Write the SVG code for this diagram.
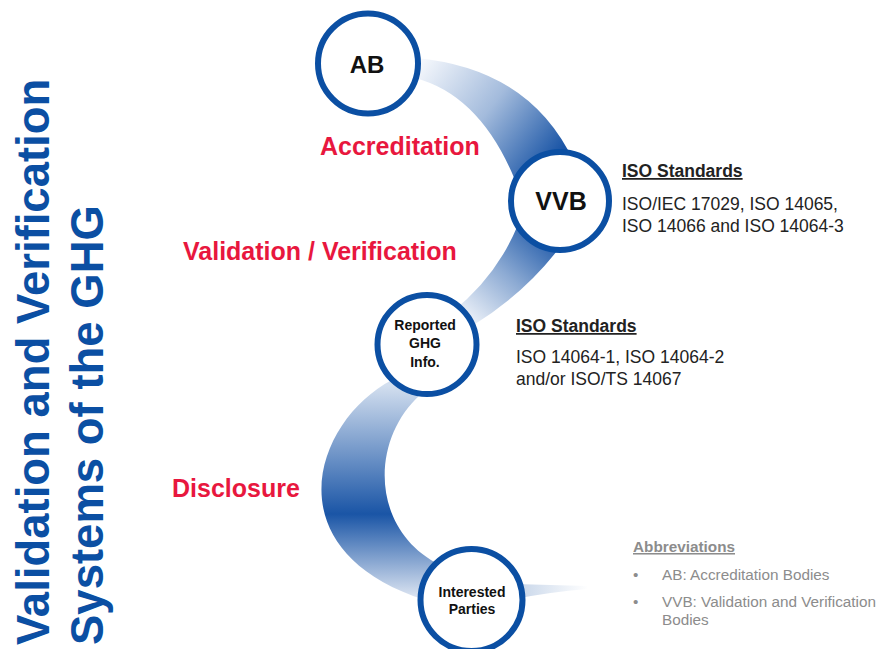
<svg xmlns="http://www.w3.org/2000/svg" width="880" height="649" viewBox="0 0 880 649">
<defs>
<style>
.title{font-family:"Liberation Sans",Arial,sans-serif;font-weight:bold;font-size:45.5px;fill:#0B4FA3}
.node circle{fill:#fff;stroke:#0B4FA3;stroke-width:6}
.nt{font-family:"Liberation Sans",Arial,sans-serif;font-weight:bold;fill:#111;text-anchor:middle}
.red{font-family:"Liberation Sans",Arial,sans-serif;font-weight:bold;font-size:25px;fill:#E8173E}
.hd{font-family:"Liberation Sans",Arial,sans-serif;font-weight:bold;font-size:17.5px;fill:#222;text-decoration:underline}
.bd{font-family:"Liberation Sans",Arial,sans-serif;font-size:17.5px;fill:#222}
.ab{font-family:"Liberation Sans",Arial,sans-serif;font-size:15.3px;fill:#8C8C8C}
</style>
<linearGradient id="g1" gradientUnits="userSpaceOnUse" x1="420" y1="65" x2="550" y2="165">
<stop offset="0" stop-color="#F4F7FC"/>
<stop offset="0.5" stop-color="#A3BBDC"/>
<stop offset="1" stop-color="#1A55A6"/>
</linearGradient>
<linearGradient id="g2" gradientUnits="userSpaceOnUse" x1="545" y1="225" x2="462" y2="318">
<stop offset="0" stop-color="#1A55A6"/>
<stop offset="0.5" stop-color="#8CAAD3"/>
<stop offset="1" stop-color="#F0F4FA"/>
</linearGradient>
<linearGradient id="g3" gradientUnits="userSpaceOnUse" x1="0" y1="385" x2="0" y2="600">
<stop offset="0" stop-color="#D3DFEF"/>
<stop offset="0.6" stop-color="#1A55A6"/>
<stop offset="1" stop-color="#E2E9F4"/>
</linearGradient>
<linearGradient id="g4" gradientUnits="userSpaceOnUse" x1="520" y1="0" x2="588" y2="0">
<stop offset="0" stop-color="#C9D7EA"/>
<stop offset="1" stop-color="#FFFFFF"/>
</linearGradient>
</defs>
<rect width="880" height="649" fill="#fff"/>

<g id="title">
<text class="title" transform="translate(49,645) rotate(-90)">Validation and Verification</text>
<text class="title" transform="translate(103,645) rotate(-90)">Systems of the GHG</text>
</g>

<g id="connectors">
<path d="M 415 58 Q 530 68 574 162 L 515 180 Q 480 95 415 78 Z" fill="url(#g1)"/>
<path d="M 525 205 Q 505 270 452 312 L 472 326 Q 530 290 565 240 Z" fill="url(#g2)"/>
<path d="M 392 380 C 315 420 270 550 425 600 L 440 565 C 370 530 370 440 420 395 Z" fill="url(#g3)"/>
<path d="M 515 584 Q 550 585 587 586 L 587 589 Q 550 592 515 599 Z" fill="url(#g4)"/>
</g>

<g id="labels">
<text class="red" x="320" y="155">Accreditation</text>
<text class="red" x="183" y="260">Validation / Verification</text>
<text class="red" x="172" y="497">Disclosure</text>
</g>

<g id="ab" class="node">
<circle cx="368" cy="63.5" r="50"/>
<text class="nt" x="367" y="73" font-size="24">AB</text>
</g>
<g id="vvb" class="node">
<circle cx="560" cy="201" r="49"/>
<text class="nt" x="561" y="210" font-size="25">VVB</text>
</g>
<g id="ghg" class="node">
<circle cx="427" cy="344.5" r="49.5"/>
<text class="nt" x="425" y="330" font-size="14">Reported</text>
<text class="nt" x="425" y="348" font-size="14">GHG</text>
<text class="nt" x="425" y="367" font-size="14">Info.</text>
</g>
<g id="parties" class="node">
<circle cx="471.5" cy="600" r="51"/>
<text class="nt" x="472" y="597" font-size="14">Interested</text>
<text class="nt" x="472" y="614" font-size="14">Parties</text>
</g>

<g id="iso-vvb">
<text class="hd" x="622" y="177">ISO Standards</text>
<text class="bd" x="622" y="210">ISO/IEC 17029, ISO 14065,</text>
<text class="bd" x="622" y="232">ISO 14066 and ISO 14064-3</text>
</g>
<g id="iso-ghg">
<text class="hd" x="516" y="332">ISO Standards</text>
<text class="bd" x="516" y="363">ISO 14064-1, ISO 14064-2</text>
<text class="bd" x="516" y="385">and/or ISO/TS 14067</text>
</g>
<g id="abbreviations">
<text class="ab" x="633" y="552" font-weight="bold" text-decoration="underline">Abbreviations</text>
<text class="ab" x="633" y="580">•</text>
<text class="ab" x="662" y="580">AB: Accreditation Bodies</text>
<text class="ab" x="633" y="607">•</text>
<text class="ab" x="662" y="607">VVB: Validation and Verification</text>
<text class="ab" x="662" y="625">Bodies</text>
</g>
</svg>
